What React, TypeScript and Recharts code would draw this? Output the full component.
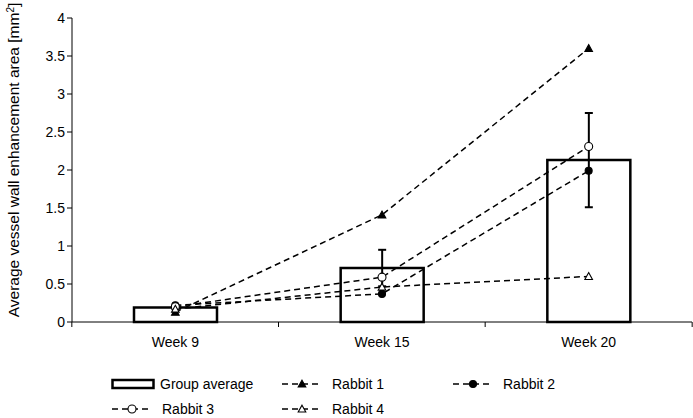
import React from 'react';
import { ComposedChart, Bar, Line, XAxis, YAxis, ErrorBar, Legend, Label } from 'recharts';

const weeks = ['Week 9', 'Week 15', 'Week 20'];
const groupAverage = [0.19, 0.71, 2.13];
const groupError = [0.02, 0.24, 0.62];
const rabbit1 = [0.13, 1.41, 3.6];
const rabbit2 = [0.22, 0.37, 1.99];
const rabbit3 = [0.2, 0.59, 2.31];
const rabbit4 = [0.17, 0.46, 0.6];
const yTicks = [0, 0.5, 1, 1.5, 2, 2.5, 3, 3.5, 4];

const data = weeks.map((w, i) => ({
  week: w,
  avg: groupAverage[i],
  err: groupError[i],
  r1: rabbit1[i],
  r2: rabbit2[i],
  r3: rabbit3[i],
  r4: rabbit4[i],
}));

const FONT = 'Liberation Sans, Arial, sans-serif';
const BAND = 207;

const Marker = ({ kind, cx, cy }: { kind: string; cx: number; cy: number }) => {
  if (kind === 'triFill' || kind === 'triOpen') {
    const s = 3.8;
    const pts = `${cx},${cy - s} ${cx + s},${cy + s * 0.8} ${cx - s},${cy + s * 0.8}`;
    return (
      <polygon
        points={pts}
        fill={kind === 'triFill' ? '#000' : '#fff'}
        stroke="#000"
        strokeWidth={1.1}
      />
    );
  }
  return (
    <circle
      cx={cx}
      cy={cy}
      r={kind === 'circFill' ? 3.5 : 4}
      fill={kind === 'circFill' ? '#000' : '#fff'}
      stroke="#000"
      strokeWidth={1.1}
    />
  );
};

const makeDot = (kind: string) => (props: any) => {
  const { cx, cy, index } = props;
  if (cx == null || cy == null) return <g key={index} />;
  return <Marker key={index} kind={kind} cx={cx} cy={cy} />;
};

const XTick = (props: any) => {
  const { x, y, payload, index } = props;
  const axisY = y - 8;
  return (
    <g>
      <line x1={x - BAND / 2} y1={axisY} x2={x - BAND / 2} y2={axisY + 5} stroke="#000" strokeWidth={1} />
      {index === weeks.length - 1 && (
        <line x1={x + BAND / 2} y1={axisY} x2={x + BAND / 2} y2={axisY + 5} stroke="#000" strokeWidth={1} />
      )}
      <text x={x} y={axisY + 25} textAnchor="middle" fontFamily={FONT} fontSize={14} fill="#000">
        {payload.value}
      </text>
    </g>
  );
};

const LineSymbol = ({ kind }: { kind: string }) => (
  <svg width={44} height={14} style={{ display: 'block' }}>
    <line x1={2} y1={7} x2={42} y2={7} stroke="#000" strokeWidth={1.5} strokeDasharray="6 4" />
    <Marker kind={kind} cx={22} cy={7} />
  </svg>
);

const legendItems = [
  { label: 'Group average', kind: 'bar', left: 110, top: 24 },
  { label: 'Rabbit 1', kind: 'triFill', left: 280, top: 24 },
  { label: 'Rabbit 2', kind: 'circFill', left: 451, top: 24 },
  { label: 'Rabbit 3', kind: 'circOpen', left: 110, top: 49 },
  { label: 'Rabbit 4', kind: 'triOpen', left: 280, top: 49 },
];

const LegendContent = () => (
  <div style={{ position: 'relative', width: 693, height: 66, fontFamily: FONT, fontSize: 14, color: '#000' }}>
    {legendItems.map((it) => (
      <div
        key={it.label}
        style={{ position: 'absolute', left: it.left, top: it.top, display: 'flex', alignItems: 'center', height: 16 }}
      >
        {it.kind === 'bar' ? (
          <svg width={46} height={14} style={{ display: 'block' }}>
            <rect x={2.5} y={3} width={41} height={8} fill="#fff" stroke="#000" strokeWidth={2.5} />
          </svg>
        ) : (
          <LineSymbol kind={it.kind} />
        )}
        <span style={{ marginLeft: it.kind === 'bar' ? 4 : 8, lineHeight: '16px' }}>{it.label}</span>
      </div>
    ))}
  </div>
);

export default function App() {
  return (
    <div style={{ position: 'absolute', left: 0, top: 0, background: '#fff' }}>
      <ComposedChart width={693} height={418} data={data} margin={{ top: 18, right: 1, left: 0, bottom: 0 }}>
        <XAxis
          dataKey="week"
          height={30}
          axisLine={{ stroke: '#000', strokeWidth: 1 }}
          tickLine={false}
          tick={<XTick />}
          interval={0}
        />
        <YAxis
          width={72}
          domain={[0, 4]}
          ticks={yTicks}
          interval={0}
          axisLine={{ stroke: '#000', strokeWidth: 1 }}
          tickLine={{ stroke: '#000' }}
          tickSize={5}
          tick={{ fontFamily: FONT, fontSize: 14, fill: '#000' }}
        >
          <Label
            content={() => (
              <text
                x={19}
                y={160}
                transform="rotate(-90 19 160)"
                textAnchor="middle"
                fontFamily={FONT}
                fontSize={15.5}
                fill="#000"
              >
                Average vessel wall enhancement area [mm
                <tspan dy={-5} fontSize={10}>2</tspan>
                <tspan dy={5}>]</tspan>
              </text>
            )}
          />
        </YAxis>
        <Legend verticalAlign="bottom" content={<LegendContent />} height={66} />
        <Bar dataKey="avg" barSize={83} fill="#fff" stroke="#000" strokeWidth={2.5} isAnimationActive={false}>
          <ErrorBar dataKey="err" width={4} stroke="#000" strokeWidth={2} direction="y" />
        </Bar>
        <Line dataKey="r1" stroke="#000" strokeWidth={1.5} strokeDasharray="6 4" dot={makeDot('triFill')} activeDot={false} isAnimationActive={false} />
        <Line dataKey="r2" stroke="#000" strokeWidth={1.5} strokeDasharray="6 4" dot={makeDot('circFill')} activeDot={false} isAnimationActive={false} />
        <Line dataKey="r3" stroke="#000" strokeWidth={1.5} strokeDasharray="6 4" dot={makeDot('circOpen')} activeDot={false} isAnimationActive={false} />
        <Line dataKey="r4" stroke="#000" strokeWidth={1.5} strokeDasharray="6 4" dot={makeDot('triOpen')} activeDot={false} isAnimationActive={false} />
      </ComposedChart>
    </div>
  );
}
